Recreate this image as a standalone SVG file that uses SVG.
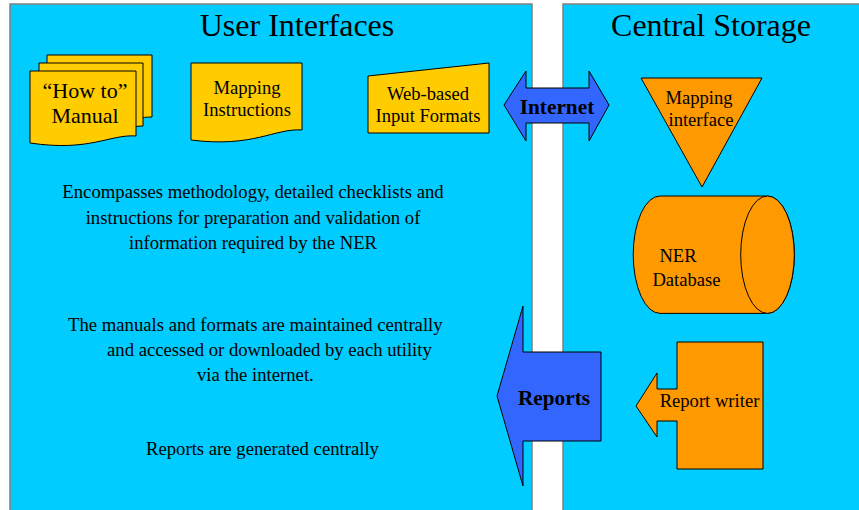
<svg xmlns="http://www.w3.org/2000/svg" width="859" height="510" viewBox="0 0 859 510">
<style>
.ttl{font-size:32px;text-anchor:middle}
.body{font-size:18.7px}
.c{text-anchor:middle}
.yel{fill:#FFCC00;stroke:#000;stroke-width:1}
.org{fill:#FF9900;stroke:#000;stroke-width:1}
.blu{fill:#3366FF;stroke:#000;stroke-width:1}
.lbl{font-size:18.6px;text-anchor:middle}
.bold{font-size:21.3px;font-weight:bold;text-anchor:middle}
</style>
<rect x="0" y="0" width="859" height="510" fill="#fff"/>
<g id="panel-user">
<rect x="10" y="4" width="522" height="520" fill="#00CCFF" stroke="#808080" stroke-width="1.5"/>
<text class="ttl" font-family="Liberation Serif" x="297" y="36">User Interfaces</text>
</g>
<g id="panel-central">
<rect x="563" y="4" width="310" height="520" fill="#00CCFF" stroke="#808080" stroke-width="1.5"/>
<text class="ttl" font-family="Liberation Serif" x="711" y="36">Central Storage</text>
</g>
<g id="howto-manual">
<path class="yel" d="M47,55 H152 V117 C130,117 125,127 99,123 L47,120 Z"/>
<path class="yel" d="M39,63 H143 V126 C120,126 115,136 90,132 L39,129 Z"/>
<path class="yel" d="M30,71 H136 V136 C110,134 90,152 30,143 Z"/>
<text class="c" font-family="Liberation Serif" x="85" y="98" font-size="22">“How to”</text>
<text class="c" font-family="Liberation Serif" x="85" y="123" font-size="22">Manual</text>
</g>
<g id="mapping-instructions">
<path class="yel" d="M191,63 H302 V130 C275,128 253,148 191,140 Z"/>
<text class="lbl" font-family="Liberation Serif" x="247" y="94">Mapping</text>
<text class="lbl" font-family="Liberation Serif" x="247" y="116">Instructions</text>
</g>
<g id="web-input">
<path class="yel" d="M368,76 L489,63 V133 H368 Z"/>
<text class="lbl" font-family="Liberation Serif" x="428" y="100">Web-based</text>
<text class="lbl" font-family="Liberation Serif" x="428" y="122">Input Formats</text>
</g>
<g id="internet">
<path class="blu" d="M504,105 L526,71 V88 H589 V71 L609,105 L589,141 V123 H526 V141 Z"/>
<text class="bold" font-family="Liberation Serif" x="557" y="114">Internet</text>
</g>
<g id="mapping-interface">
<path class="org" d="M641,78 H762 L702,187 Z"/>
<text class="lbl" font-family="Liberation Serif" x="699" y="104">Mapping</text>
<text class="lbl" font-family="Liberation Serif" x="701" y="126">interface</text>
</g>
<g id="ner-database">
<path class="org" d="M660,196 H767.5 A26.8,58.7 0 0 1 767.5,313.4 H660 A26.8,58.7 0 0 1 660,196 Z"/>
<ellipse class="org" cx="767.5" cy="254.7" rx="26.8" ry="58.7"/>
<text class="lbl" font-family="Liberation Serif" x="678" y="262">NER</text>
<text class="lbl" font-family="Liberation Serif" x="686.5" y="286">Database</text>
</g>
<g id="reports">
<path class="blu" d="M497,396 L523,306 V352 H601 V441 H523 V486 Z"/>
<text class="bold" font-family="Liberation Serif" x="554" y="405">Reports</text>
</g>
<g id="report-writer">
<path class="org" d="M677,342 H763 V469 H677 V421 H657 V437 L636,406 L657,373 V389 H677 Z"/>
<text class="lbl" font-family="Liberation Serif" x="709.5" y="407">Report writer</text>
</g>
<g id="notes">
<text class="body c" font-family="Liberation Serif" x="253" y="198">Encompasses methodology, detailed checklists and</text>
<text class="body c" font-family="Liberation Serif" x="253" y="224">instructions for preparation and validation of</text>
<text class="body c" font-family="Liberation Serif" x="253" y="249">information required by the NER</text>
<text class="body" font-family="Liberation Serif" x="68" y="331">The manuals and formats are maintained centrally</text>
<text class="body" font-family="Liberation Serif" x="107" y="356">and accessed or downloaded by each utility</text>
<text class="body" font-family="Liberation Serif" x="197" y="381">via the internet.</text>
<text class="body" font-family="Liberation Serif" x="146" y="455">Reports are generated centrally</text>
</g>
<g id="connectors"></g>
</svg>
